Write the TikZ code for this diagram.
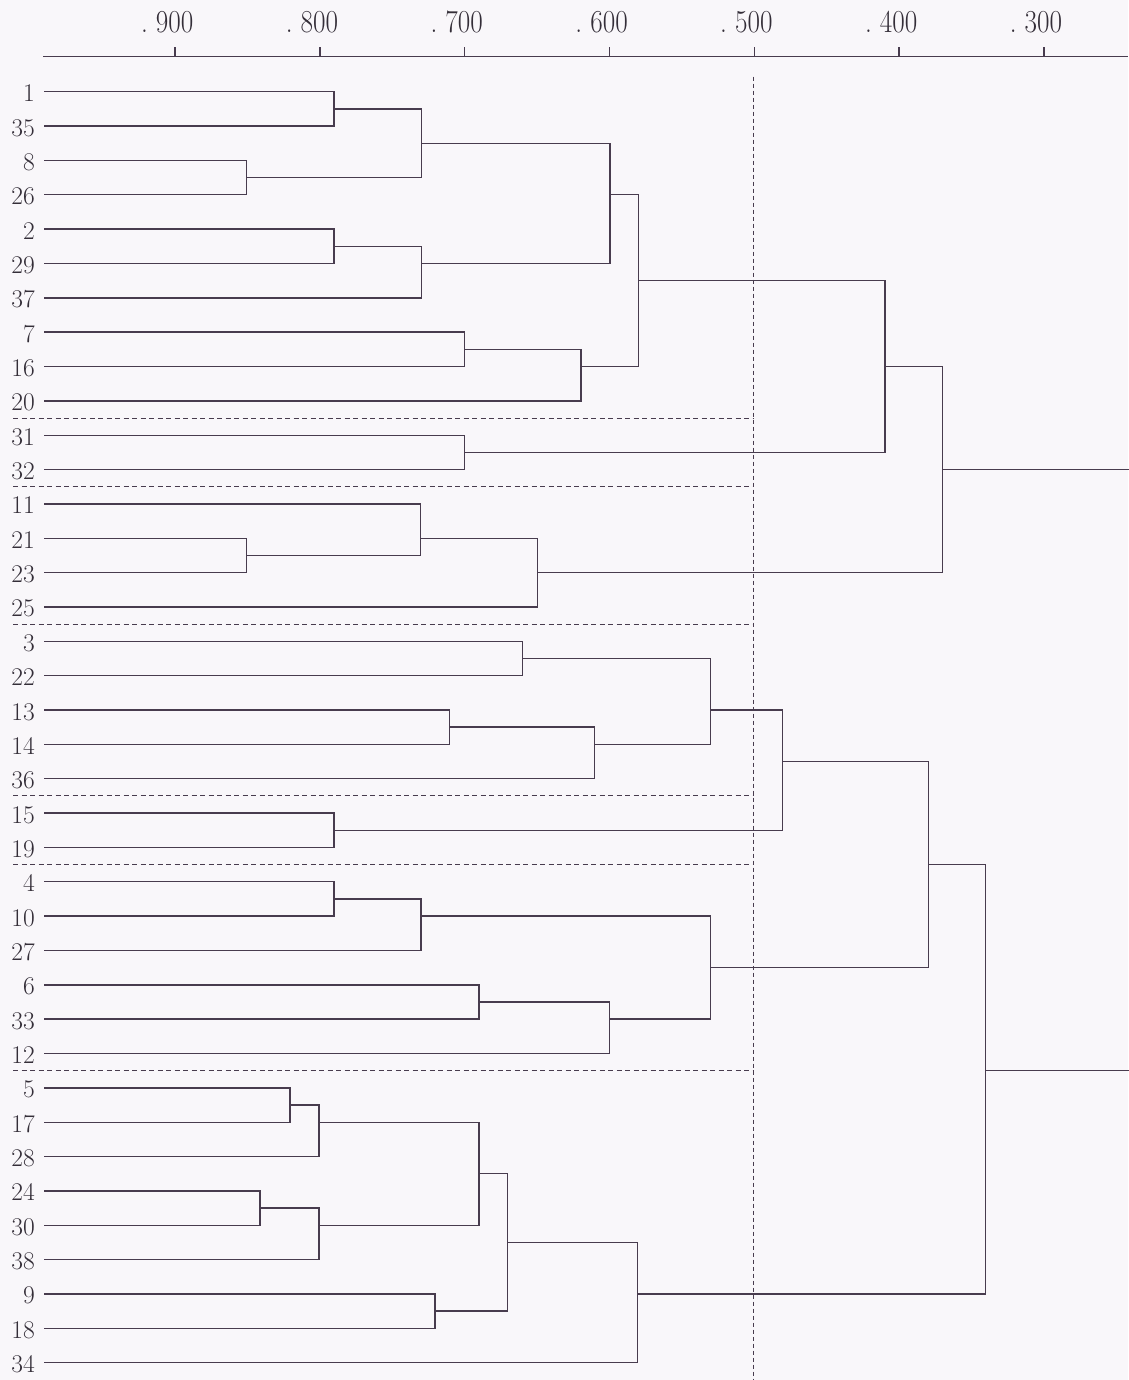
\documentclass[tikz,border=0pt]{standalone}
\usepackage{graphicx}
\definecolor{bg}{RGB}{249,247,250}
\definecolor{ln}{RGB}{72,60,78}
\definecolor{tx}{RGB}{52,46,56}
\begin{document}
\begin{tikzpicture}[x=1pt,y=-1pt,
  dend/.style={draw=ln,line width=1.4pt,line join=miter},
  cut/.style={draw=ln,line width=1pt,dash pattern=on 5pt off 3.5pt},
  cutv/.style={draw=ln,line width=1pt,dash pattern=on 4pt off 3pt},
  leaf/.style={anchor=base east,inner sep=0pt,text=tx,font=\fontsize{25.5}{25.5}\selectfont},
  ticklab/.style={anchor=base,inner sep=0pt,text=tx,font=\fontsize{32}{32}\selectfont}]
\fill[bg] (0,0) rectangle (1128,1380);
\useasboundingbox (0,0) rectangle (1128,1380);
% axis
\coordinate (ax0) at (43,56.7);
\coordinate (ax1) at (1128,56.7);
\draw[dend] (ax0) -- (ax1);
\foreach \k/\v in {0/900,1/800,2/700,3/600,4/500,5/400,6/300}{
  \coordinate (tk\v) at ({175+144.8*\k},56.7);
  \draw[dend] (tk\v) -- ++(0,-10);
  \node[ticklab] (tl\v) at ({175+144.8*\k-7.8},33) {\scalebox{0.85}[1]{.\kern9.5pt\v}};
}
% cut line at .500
\coordinate (cv0) at (753,76.7);
\coordinate (cv1) at (753,1380);
\draw[cutv] (cv0) -- (cv1);
\begin{scope}[yshift=-91.7pt,y=-34.35pt]
\foreach \lab [count=\r from 0] in {1,35,8,26,2,29,37,7,16,20,31,32,11,21,23,25,3,22,13,14,36,15,19,4,10,27,6,33,12,5,17,28,24,30,38,9,18,34}{
  \coordinate (c\lab) at (44,\r);
  \node[leaf,yshift=-10pt] (n\lab) at (35,\r) {\lab};
}
% horizontal cut lines
\foreach \rr in {9.5,11.5,15.5,20.5,22.5,28.5}{
  \draw[cut] (13,\rr) -- (753,\rr);
}
% cluster 1
\coordinate (a1) at (334,0.5);   \draw[dend] (c1) -| (a1) |- (c35);
\coordinate (a2) at (246.7,2.5); \draw[dend] (c8) -| (a2) |- (c26);
\coordinate (a3) at (421.3,1.5); \draw[dend] (a1) -| (a3) |- (a2);
\coordinate (a4) at (334,4.5);   \draw[dend] (c2) -| (a4) |- (c29);
\coordinate (a5) at (421.3,5);   \draw[dend] (a4) -| (a5) |- (c37);
\coordinate (a6) at (610,3);     \draw[dend] (a3) -| (a6) |- (a5);
\coordinate (a7) at (464.3,7.5); \draw[dend] (c7) -| (a7) |- (c16);
\coordinate (a8) at (581,8);     \draw[dend] (a7) -| (a8) |- (c20);
\coordinate (a9) at (638.3,5.5); \draw[dend] (a6) -| (a9) |- (a8);
\coordinate (a10) at (464.3,10.5); \draw[dend] (c31) -| (a10) |- (c32);
\coordinate (a11) at (885,8);    \draw[dend] (a9) -| (a11) |- (a10);
\coordinate (b1) at (246.7,13.5); \draw[dend] (c21) -| (b1) |- (c23);
\coordinate (b2) at (420.7,13);  \draw[dend] (c11) -| (b2) |- (b1);
\coordinate (b3) at (537.3,14);  \draw[dend] (b2) -| (b3) |- (c25);
\coordinate (t1) at (942.3,11);  \draw[dend] (a11) -| (t1) |- (b3);
\coordinate (e1) at (1130,11);   \draw[dend] (t1) -- (e1);
% cluster 2
\coordinate (d1) at (522.7,16.5); \draw[dend] (c3) -| (d1) |- (c22);
\coordinate (d2) at (449.3,18.5); \draw[dend] (c13) -| (d2) |- (c14);
\coordinate (d3) at (594.3,19);  \draw[dend] (d2) -| (d3) |- (c36);
\coordinate (d4) at (710.7,18);  \draw[dend] (d1) -| (d4) |- (d3);
\coordinate (d5) at (334,21.5);  \draw[dend] (c15) -| (d5) |- (c19);
\coordinate (d6) at (782.7,19.5); \draw[dend] (d4) -| (d6) |- (d5);
\coordinate (f1) at (334,23.5);  \draw[dend] (c4) -| (f1) |- (c10);
\coordinate (f2) at (421,24);    \draw[dend] (f1) -| (f2) |- (c27);
\coordinate (f3) at (479,26.5);  \draw[dend] (c6) -| (f3) |- (c33);
\coordinate (f4) at (609.3,27);  \draw[dend] (f3) -| (f4) |- (c12);
\coordinate (f5) at (710.7,25.5); \draw[dend] (f2) -| (f5) |- (f4);
\coordinate (f6) at (928.3,22.5); \draw[dend] (d6) -| (f6) |- (f5);
\coordinate (g1) at (290,29.5);  \draw[dend] (c5) -| (g1) |- (c17);
\coordinate (g2) at (319,30);    \draw[dend] (g1) -| (g2) |- (c28);
\coordinate (g3) at (260,32.5);  \draw[dend] (c24) -| (g3) |- (c30);
\coordinate (g4) at (319,33);    \draw[dend] (g3) -| (g4) |- (c38);
\coordinate (g5) at (479,31.5);  \draw[dend] (g2) -| (g5) |- (g4);
\coordinate (g6) at (435,35.5);  \draw[dend] (c9) -| (g6) |- (c18);
\coordinate (g7) at (507.3,33.5); \draw[dend] (g5) -| (g7) |- (g6);
\coordinate (g8) at (637.3,35);  \draw[dend] (g7) -| (g8) |- (c34);
\coordinate (t2) at (985.7,28.5); \draw[dend] (f6) -| (t2) |- (g8);
\coordinate (e2) at (1130,28.5); \draw[dend] (t2) -- (e2);
\end{scope}
\end{tikzpicture}
\end{document}
